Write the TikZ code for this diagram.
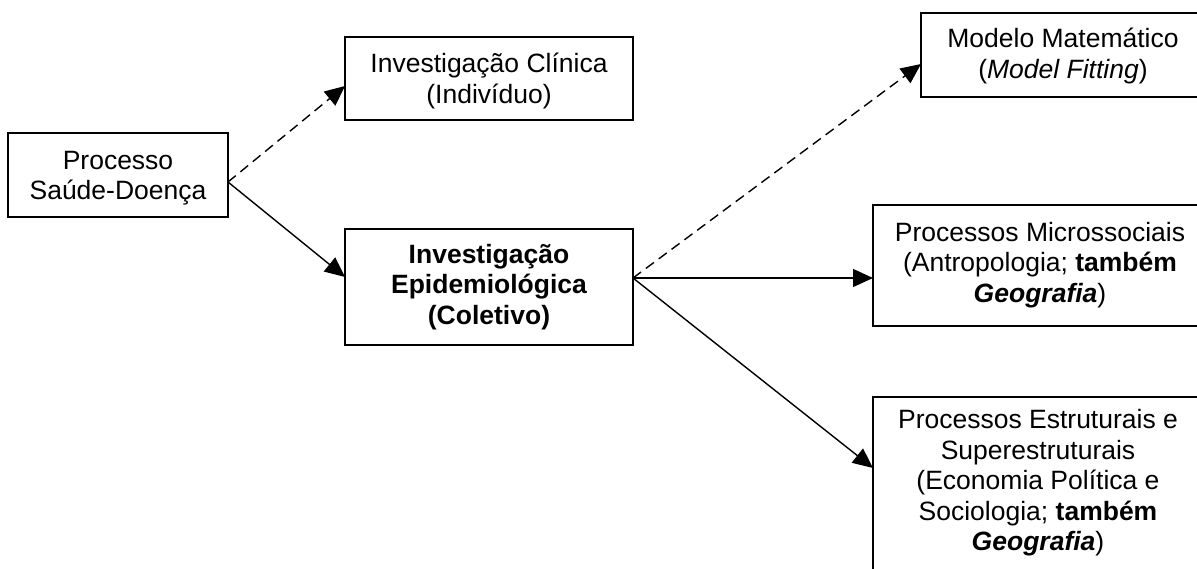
\documentclass[tikz,border=0pt]{standalone}
\usepackage{fontspec}
\setmainfont{Liberation Sans}
\usetikzlibrary{arrows.meta}
\begin{document}
\begin{tikzpicture}[x=1pt,y=-1pt,
  box/.style={draw, line width=1.6pt, inner sep=0pt, outer sep=0pt, anchor=north west},
  txt/.style={align=center, font=\fontsize{26.5}{30.5}\selectfont, inner sep=0pt},
  arr/.style={line width=1.4pt, -{Triangle[length=20pt,width=18pt]}},
  dsh/.style={arr, dash pattern=on 10pt off 6pt}]
\useasboundingbox (0,0) rectangle (1197,569);
\clip (0,0) rectangle (1197,569);
\fill[white] (0,0) rectangle (1197,569);
% boxes
\node[box, minimum width=220pt, minimum height=84pt] (proc) at (8,133) {};
\node[txt] (proct) at (118,178) {Processo\\Saúde-Doença};
\node[box, minimum width=288pt, minimum height=83pt] (clin) at (345,37) {};
\node[txt] (clint) at (489,81) {Investigação Clínica\\(Indivíduo)};
\node[box, minimum width=288pt, minimum height=116pt] (epid) at (345,229) {};
\node[txt, font=\fontsize{26.5}{30.5}\selectfont\bfseries] (epidt) at (489,287) {Investigação\\Epidemiológica\\(Coletivo)};
\node[box, minimum width=300pt, minimum height=84pt] (model) at (921,13) {};
\node[txt] (modelt) at (1063,56) {Modelo Matemático\\(\textit{Model Fitting})};
\node[box, minimum width=360pt, minimum height=121pt] (micro) at (873,205) {};
\node[txt] (microt) at (1040,265) {Processos Microssociais\\(Antropologia; \textbf{também}\\\textbf{\textit{Geografia}})};
\node[box, minimum width=360pt, minimum height=250pt] (estr) at (873,397) {};
\node[txt] (estrt) at (1038,483) {Processos Estruturais e\\Superestruturais\\(Economia Política e\\Sociologia; \textbf{também}\\\textbf{\textit{Geografia}})};
% connectors
\draw[dsh] ([yshift=-7pt]proc.east) -- ([yshift=-7.5pt]clin.west);
\draw[arr] ([yshift=-7pt]proc.east) -- ([yshift=10pt]epid.west);
\draw[dsh] ([yshift=9pt]epid.east) -- ([yshift=-9pt]model.west);
\draw[arr] ([yshift=9pt]epid.east) -- ([yshift=-12.5pt]micro.west);
\draw[arr] ([yshift=9pt]epid.east) -- ([yshift=-71pt]estr.north west);
\end{tikzpicture}
\end{document}
